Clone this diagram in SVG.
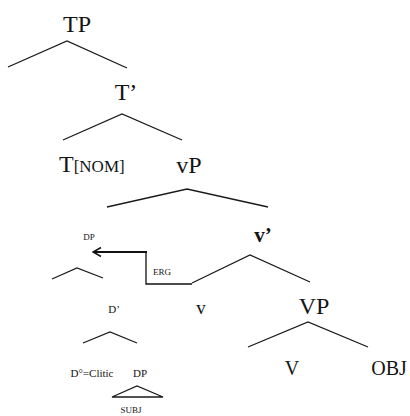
<svg xmlns="http://www.w3.org/2000/svg" width="410" height="416" viewBox="0 0 410 416">
<style>
text{font-family:"Liberation Serif","Times New Roman",serif;fill:#141414;text-anchor:middle}
.br{stroke:#1a1a1a;stroke-width:1.3;fill:none}
.a{stroke:#111;fill:none}
</style>
<defs>
<marker id="ah" markerWidth="10" markerHeight="10" refX="9" refY="5" orient="auto" markerUnits="userSpaceOnUse">
<path d="M1,0.5 L9,5 L1,9.5" fill="none" stroke="#111" stroke-width="1.6"/>
</marker>
</defs>
<rect width="410" height="416" fill="#fff"/>
<g id="connectors">
<polyline class="br" points="8,67 67,41 127,68"/>
<polyline class="br" points="63,140 122,114 182,140"/>
<polyline class="br" points="107,207 187,189 268,207"/>
<polyline class="br" points="192,283 250,255 310,282"/>
<polyline class="br" points="52,279 77,268 103,278"/>
<polyline class="br" points="248,347 308,322 368,347"/>
<polyline class="br" points="83,343 110,332 137,343"/>
<polygon class="br" points="112,397 137,386 163,397"/>
<path class="a" stroke-width="1.3" d="M192,284 H146 V252"/>
<path class="a" stroke-width="2" d="M147,252 H93" marker-end="url(#ah)"/>
</g>
<g id="TP"><text x="77" y="32" font-size="24">TP</text></g>
<g id="Tbar"><text x="126" y="100" font-size="24">T’</text></g>
<g id="T"><text x="59" y="172" font-size="24" style="text-anchor:start">T<tspan font-size="17">[NOM]</tspan></text></g>
<g id="vP"><text x="189" y="173" font-size="24">vP</text></g>
<g id="DP"><text x="89" y="240" font-size="9">DP</text></g>
<g id="ERG"><text x="162" y="275" font-size="9">ERG</text></g>
<g id="vbar"><text x="263" y="242" font-size="21" font-weight="bold">v’</text></g>
<g id="v"><text x="201" y="314" font-size="19">v</text></g>
<g id="VP"><text x="314" y="314" font-size="24">VP</text></g>
<g id="V"><text x="292" y="375" font-size="20">V</text></g>
<g id="OBJ"><text x="389" y="375" font-size="20">OBJ</text></g>
<g id="Dbar"><text x="114" y="313" font-size="11">D’</text></g>
<g id="Dclitic"><text x="92" y="377" font-size="11">D°=Clitic</text></g>
<g id="DPsub"><text x="140" y="377" font-size="11">DP</text></g>
<g id="SUBJ"><text x="131" y="413" font-size="9">SUBJ</text></g>
</svg>
